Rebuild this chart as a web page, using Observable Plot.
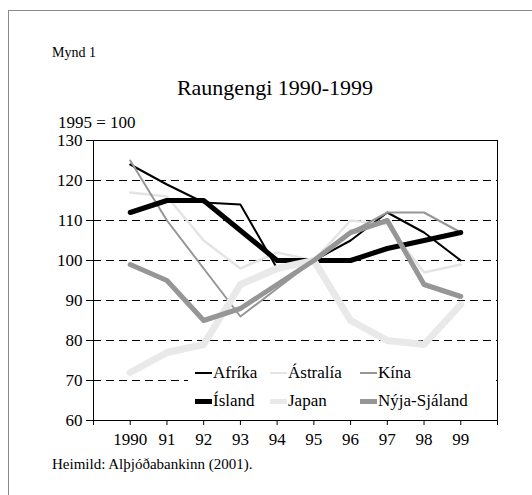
<!DOCTYPE html>
<html><head><meta charset="utf-8">
<script src="https://cdn.jsdelivr.net/npm/d3@7"></script>
<script src="https://cdn.jsdelivr.net/npm/@observablehq/plot@0.6"></script>
<style>
body{margin:0;background:#fff;}
#wrap{position:relative;width:532px;height:495px;font-family:"Liberation Serif",serif;color:#000;overflow:hidden;background:#fff}
.t{position:absolute;white-space:nowrap;line-height:1;font-family:"Liberation Serif",serif}
#frame{position:absolute;left:8px;top:10px;width:600px;height:600px;border-left:1.5px solid #8a8a8a;border-top:1.5px solid #8a8a8a;}
#chart{position:absolute;left:0;top:0}
#chart svg, #chart svg text{font-family:"Liberation Serif",serif !important}
#legend{position:absolute;left:188px;top:360px;width:304px;height:56px;background:#fff}
.li{position:absolute;font-size:16px;line-height:1;white-space:nowrap;font-family:"Liberation Serif",serif}
.sw{position:absolute}
</style></head>
<body>
<div id="wrap">
  <div id="frame"></div>
  <div id="chart"></div>
  <div class="t" style="left:52px;top:46px;font-size:14px">Mynd 1</div>
  <div class="t" style="left:0;width:550px;text-align:center;top:77px;font-size:22px">Raungengi 1990-1999</div>
  <div class="t" style="left:58px;top:114px;font-size:17px">1995 = 100</div>
  <div class="t" style="left:52px;top:457px;font-size:15px">Heimild: Alþjóðabankinn (2001).</div>
  <div id="legend"></div>
</div>
<script>
const years = [1990,1991,1992,1993,1994,1995,1996,1997,1998,1999];
const xTickLabels = ["1990","91","92","93","94","95","96","97","98","99"];
const yTicks = [60,70,80,90,100,110,120,130];
const gridValues = [70,80,90,100,110,120];
const seriesNames = ["Afríka","Ástralía","Kína","Ísland","Japan","Nýja-Sjáland"];
const afrika   = [124,119,114.5,114,98,100,105,112,107,100];
const astralia = [117,116,105,98,102,100,110,109,97,99];
const kina     = [125,110,98,86,93,100,107,112,112,107];
const island   = [112,115,115,107.5,100,100,100,103,105,107];
const japan    = [72,77,79,94,98,100,85,80,79,89];
const nyja     = [99,95,85,88,94,100,107,110,94,91];

const seriesValues = [afrika, astralia, kina, island, japan, nyja];
const styles = {
  "Afríka":       {stroke:"#000",    w:2},
  "Ástralía":     {stroke:"#e4e4e4", w:2.5},
  "Kína":         {stroke:"#969696", w:2},
  "Ísland":       {stroke:"#000",    w:5},
  "Japan":        {stroke:"#e9e9e9", w:7},
  "Nýja-Sjáland": {stroke:"#969696", w:5}
};
const rows = [];
seriesNames.forEach((s,i)=>years.forEach((y,j)=>rows.push({s, year:y, v:seriesValues[i][j]})));

const labelFor = new Map(years.map((y,i)=>[y,xTickLabels[i]]));

const plot = Plot.plot({
  width:532, height:495,
  marginLeft:93, marginRight:35, marginTop:140, marginBottom:75,
  style:{fontFamily:"Liberation Serif, serif", color:"#000", background:"transparent", overflow:"visible"},
  x:{domain:[1989,2000]},
  y:{domain:[60,130]},
  marks:[
    Plot.ruleY(gridValues, {stroke:"#000", strokeDasharray:"8,5", strokeWidth:1}),
    ...seriesNames.map(name => Plot.line(rows.filter(d=>d.s===name), {
      x:"year", y:"v", stroke:styles[name].stroke, strokeWidth:styles[name].w,
      strokeLinejoin:"round", strokeLinecap:"round"
    })),
    Plot.frame({stroke:"#000", strokeWidth:1}),
    Plot.axisY(yTicks, {tickSize:7, tickPadding:4, fontSize:17, label:null}),
    Plot.axisX(d3.range(1989,2001), {tickSize:5, tickPadding:7, fontSize:17, label:null,
      tickFormat: d => labelFor.get(d) ?? ""})
  ]
});
document.getElementById("chart").appendChild(plot);

// legend
const legend = document.getElementById("legend");
const cols = [7, 82, 172];  // swatch left offsets within legend
const rowsY = [13, 41];     // row centers within legend
seriesNames.forEach((name,i)=>{
  const c = i%3, r = Math.floor(i/3);
  const st = styles[name];
  const sw = document.createElement("div");
  sw.className="sw";
  const h = st.w>3 ? 5 : 2.5;
  sw.style.cssText = `left:${cols[c]}px;top:${rowsY[r]-h/2}px;width:17px;height:${h}px;background:${st.stroke}`;
  legend.appendChild(sw);
  const tx = document.createElement("div");
  tx.className="li";
  tx.textContent = name;
  tx.style.cssText += `left:${cols[c]+18}px;top:${rowsY[r]-9}px;font-size:17px`;
  legend.appendChild(tx);
});
</script>
</body></html>
